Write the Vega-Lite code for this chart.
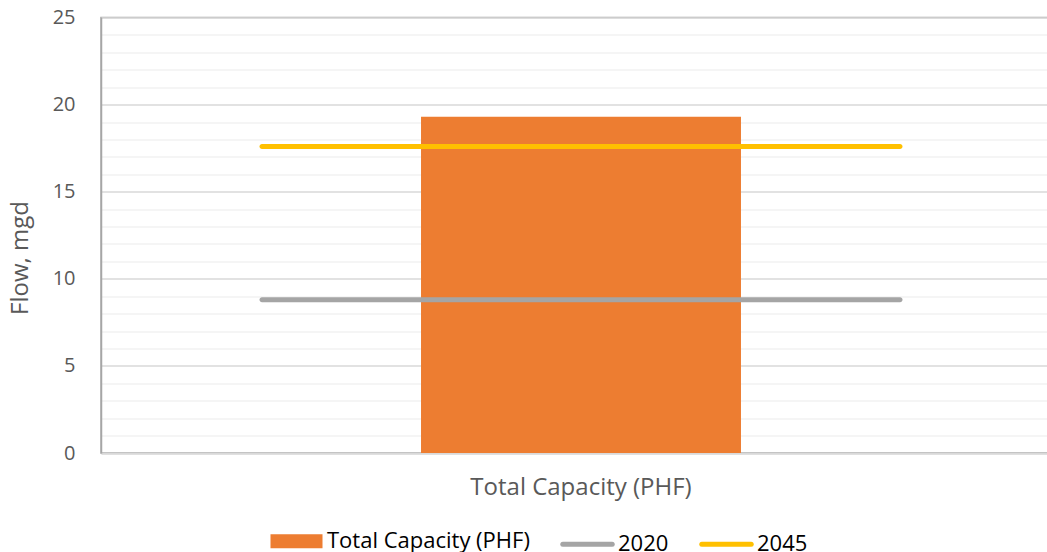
{
  "$schema": "https://vega.github.io/schema/vega-lite/v6.json",
  "width": 960,
  "height": 435.5,
  "autosize": {"type": "none"},
  "padding": {"left": 101, "top": 17.5, "right": 0, "bottom": 99},
  "background": "white",
  "config": {
    "font": "Open Sans",
    "view": {"stroke": "#a6a6a6", "strokeWidth": 1.5}
  },
  "data": {
    "values": [
      {"category": "Total Capacity (PHF)", "series": "Total Capacity (PHF)", "value": 19.3, "type": "bar"},
      {"category": "Total Capacity (PHF)", "series": "2020", "value": 8.8, "type": "line"},
      {"category": "Total Capacity (PHF)", "series": "2045", "value": 17.6, "type": "line"}
    ]
  },
  "resolve": {"axis": {"y": "independent"}, "scale": {"y": "shared"}},
  "layer": [
    {
      "transform": [{"filter": "datum.type === 'bar'"}],
      "mark": {"type": "bar", "width": {"band": 0.3333}},
      "encoding": {
        "x": {
          "field": "category", "type": "nominal",
          "scale": {"paddingInner": 0, "paddingOuter": 0},
          "axis": {
            "title": null, "labelAngle": 0, "ticks": false, "labelLimit": 0,
            "domainColor": "#d9d9d9", "domainWidth": 1.5,
            "labelColor": "#595959", "labelFontSize": 24, "labelPadding": 22,
            "labelFont": "Open Sans"
          }
        },
        "y": {
          "field": "value", "type": "quantitative",
          "scale": {"domain": [0, 25], "nice": false},
          "axis": {
            "orient": "left", "values": [1,2,3,4,6,7,8,9,11,12,13,14,16,17,18,19,21,22,23,24],
            "grid": true, "gridColor": "#f2f2f2", "gridWidth": 1.5,
            "labels": false, "ticks": false, "domain": false, "title": null
          }
        },
        "color": {
          "field": "series", "type": "nominal",
          "scale": {"domain": ["Total Capacity (PHF)", "2020", "2045"], "range": ["#ED7D31", "#A5A5A5", "#FFC000"]},
          "legend": {
            "title": null, "orient": "none", "legendX": 167, "legendY": 495,
            "direction": "horizontal", "columns": 3, "labelLimit": 0,
            "symbolSize": 2704, "symbolType": "M-1,-0.27H1V0.27H-1Z",
            "labelFontSize": 22, "labelColor": "#000000", "labelOffset": 2,
            "columnPadding": 22, "labelFont": "Open Sans",
            "encode": {
              "symbols": {
                "update": {
                  "shape": {"signal": "datum.value === 'Total Capacity (PHF)' ? 'M-1,-0.27H1V0.27H-1Z' : 'M-0.95,0H0.95'"},
                  "fill": {"signal": "datum.value === 'Total Capacity (PHF)' ? '#ED7D31' : 'transparent'"},
                  "stroke": {"signal": "datum.value === 'Total Capacity (PHF)' ? 'transparent' : (datum.value === '2020' ? '#A5A5A5' : '#FFC000')"},
                  "strokeWidth": {"value": 5},
                  "strokeCap": {"value": "round"},
                  "opacity": {"value": 1}
                }
              }
            }
          }
        }
      }
    },
    {
      "transform": [{"filter": "datum.type === 'line'"}],
      "mark": {"type": "tick", "orient": "horizontal", "size": 643, "thickness": 5, "opacity": 1, "cornerRadius": 2.5},
      "encoding": {
        "x": {"field": "category", "type": "nominal"},
        "y": {
          "field": "value", "type": "quantitative",
          "axis": {
            "orient": "left", "values": [0, 5, 10, 15, 20, 25],
            "grid": true, "gridColor": "#d9d9d9", "gridWidth": 1.5,
            "ticks": false, "domain": true, "domainColor": "#a6a6a6", "domainWidth": 1.5,
            "labelColor": "#595959", "labelFontSize": 20, "labelPadding": 26, "labelFont": "Open Sans",
            "title": "Flow, mgd", "titleColor": "#595959", "titleFontSize": 24, "titleFontWeight": "normal",
            "titleX": -81, "titleY": 240, "titleBaseline": "middle", "titleAngle": -90, "titleFont": "Open Sans"
          }
        },
        "color": {"field": "series", "type": "nominal"}
      }
    }
  ]
}
